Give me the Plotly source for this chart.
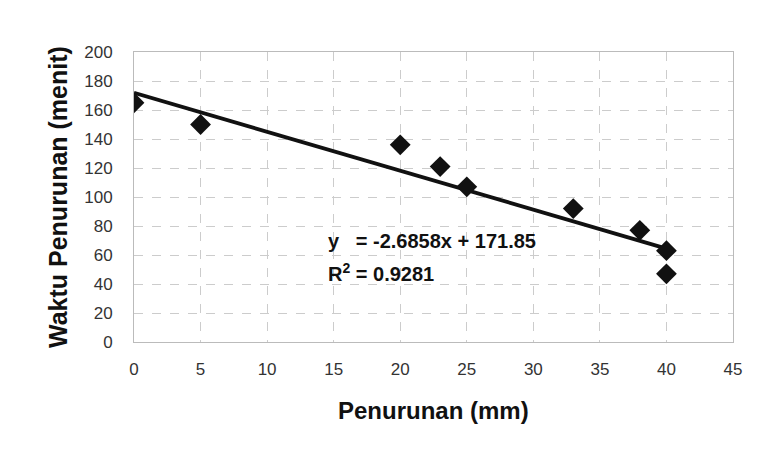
import plotly.graph_objects as go

penurunan = [0, 5, 20, 23, 25, 33, 38, 40, 40]
waktu = [165, 150, 136, 121, 107, 92, 77, 63, 47]
slope = -2.6858
intercept = 171.85
trend_x = [0, 40]
trend_y = [slope * v + intercept for v in trend_x]
x_ticks = [0, 5, 10, 15, 20, 25, 30, 35, 40, 45]
y_ticks = [0, 20, 40, 60, 80, 100, 120, 140, 160, 180, 200]

FONT = "Liberation Sans, Arial, sans-serif"

fig = go.Figure()
fig.add_trace(go.Scatter(x=trend_x, y=trend_y, mode="lines",
                         line=dict(color="#111111", width=3.8), showlegend=False))
fig.add_trace(go.Scatter(x=penurunan, y=waktu, mode="markers",
                         marker=dict(symbol="diamond", size=16, color="#111111"),
                         showlegend=False))

fig.add_annotation(x=14.4, y=70, xref="x", yref="y", xanchor="left", yanchor="middle",
                   text="y&nbsp;&nbsp;&nbsp;= -2.6858x + 171.85", showarrow=False,
                   font=dict(family=FONT, size=20, color="#111111", weight="bold"))
fig.add_annotation(x=14.4, y=48, xref="x", yref="y", xanchor="left", yanchor="middle",
                   text="R<sup>2</sup> = 0.9281", showarrow=False,
                   font=dict(family=FONT, size=20, color="#111111", weight="bold"))

# axis titles
fig.add_annotation(x=0.5, y=0, xref="paper", yref="paper", xanchor="center", yanchor="middle",
                   yshift=-68, text="Penurunan (mm)", showarrow=False,
                   font=dict(family=FONT, size=24, color="#111111", weight="bold"))
fig.add_annotation(x=0, y=0.5, xref="paper", yref="paper", xanchor="center", yanchor="middle",
                   xshift=-76, textangle=-90, text="Waktu Penurunan (menit)", showarrow=False,
                   font=dict(family=FONT, size=25, color="#111111", weight="bold"))

fig.update_layout(
    width=741, height=436,
    margin=dict(l=126, r=16, t=44, b=102, autoexpand=False),
    paper_bgcolor="white", plot_bgcolor="white",
    font=dict(family=FONT, color="#222222"),
)
fig.update_xaxes(range=[0, 45], tickvals=x_ticks, showgrid=True, gridcolor="#cccccc",
                 griddash="dash", gridwidth=1, zeroline=False, showline=True,
                 linecolor="#bbbbbb", mirror=True, ticks="", ticklabelstandoff=12,
                 automargin=False, tickfont=dict(size=17, color="#333333"))
fig.update_yaxes(range=[0, 200], tickvals=y_ticks, showgrid=True, gridcolor="#cccccc",
                 griddash="dash", gridwidth=1, zeroline=False, showline=True,
                 linecolor="#bbbbbb", mirror=True, ticks="", ticklabelstandoff=17,
                 automargin=False, tickfont=dict(size=17, color="#333333"))

fig.write_html("out.html")
